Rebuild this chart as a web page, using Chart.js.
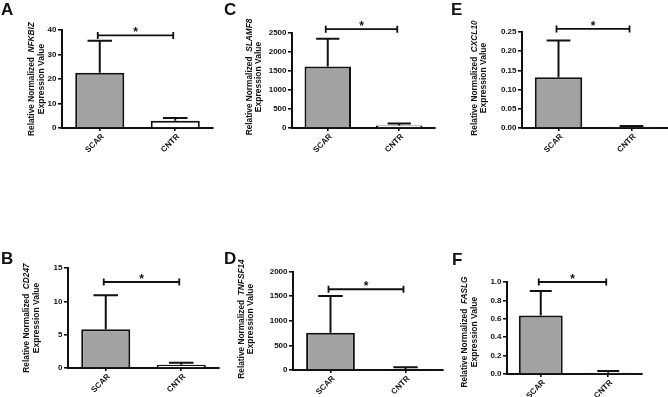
<!DOCTYPE html>
<html>
<head>
<meta charset="utf-8">
<script src="https://cdn.jsdelivr.net/npm/chart.js@4.4.1/dist/chart.umd.min.js"></script>
<style>
  html, body { margin: 0; padding: 0; background: #fff; }
  #page { position: relative; width: 668px; height: 397px; overflow: hidden; }
  #page canvas { position: absolute; left: 0; top: 0; }
</style>
</head>
<body>
<div id="page"></div>
<script>
// data
const groups = ['SCAR', 'CNTR'];
const panelLetters = ['A', 'C', 'E', 'B', 'D', 'F'];
const genes = ['NFKBIZ', 'SLAMF8', 'CXCL10', 'CD247', 'TNFSF14', 'FASLG'];
const scarMean = [22.6, 1620, 0.132, 5.8, 755, 0.635];
const scarUpper = [35.6, 2350, 0.228, 10.9, 1505, 0.903];
const cntrMean = [3.0, 65, 0.003, 0.5, 18, 0.013];
const cntrUpper = [4.1, 120, 0.005, 0.8, 55, 0.033];
const yMax = [40, 2500, 0.25, 15, 2000, 1.0];
const yStep = [10, 500, 0.05, 5, 500, 0.2];
const tickDecimals = [0, 0, 2, 0, 0, 1];
const sigLevel = [37.8, 2600, 0.258, 12.9, 1640, 1.0];
const sigMarks = ['*', '*', '*', '*', '*', '*'];

// where each panel sits on the page (px)
const frames = [
  { left: 62, top: 30, bottom: 128, right: 213, t1: 32, t2: 42, tc: 79, lx: 1, ly: 15 },
  { left: 292, top: 33, bottom: 128, right: 435, t1: 250, t2: 259, tc: 77, lx: 224, ly: 15 },
  { left: 522, top: 32, bottom: 128, right: 668, t1: 475, t2: 484, tc: 78, lx: 451, ly: 15 },
  { left: 68, top: 268, bottom: 368, right: 219, t1: 27, t2: 37, tc: 318, lx: 1, ly: 264 },
  { left: 293, top: 271.5, bottom: 370, right: 443, t1: 242, t2: 251, tc: 319, lx: 224, ly: 264 },
  { left: 507, top: 282, bottom: 374, right: 642, t1: 465, t2: 475, tc: 332, lx: 452, ly: 265 }
];

const FONT = '"Liberation Sans", Arial, sans-serif';
const INK = '#111';
const Y_W = 30, X_H = 30;

const panelDecor = {
  id: 'panelDecor',
  afterDatasetsDraw(chart, args, opts) {
    const { ctx } = chart;
    const x = chart.scales.x, y = chart.scales.y;
    const i = opts.index;
    const uppers = [scarUpper[i], cntrUpper[i]];
    const means = [scarMean[i], cntrMean[i]];
    const meta = chart.getDatasetMeta(0);
    ctx.save();
    ctx.strokeStyle = INK;
    ctx.lineWidth = 2;
    // error bars (upper only)
    meta.data.forEach((bar, k) => {
      const cx = bar.x, half = bar.width / 4;
      const y0 = y.getPixelForValue(means[k]), y1 = y.getPixelForValue(uppers[k]);
      ctx.beginPath();
      ctx.moveTo(cx, y0); ctx.lineTo(cx, y1);
      ctx.moveTo(cx - half, y1); ctx.lineTo(cx + half, y1);
      ctx.stroke();
    });
    // significance bracket
    const x1 = x.getPixelForValue(0) - 2, x2 = x.getPixelForValue(1) - 2;
    const by = y.getPixelForValue(sigLevel[i]);
    ctx.lineWidth = 1.8;
    ctx.beginPath();
    ctx.moveTo(x1, by); ctx.lineTo(x2, by);
    ctx.moveTo(x1, by - 3.5); ctx.lineTo(x1, by + 3.5);
    ctx.moveTo(x2, by - 3.5); ctx.lineTo(x2, by + 3.5);
    ctx.stroke();
    ctx.fillStyle = INK;
    ctx.font = 'bold 12px ' + FONT;
    ctx.textAlign = 'center';
    ctx.textBaseline = 'alphabetic';
    ctx.fillText(sigMarks[i], (x1 + x2) / 2, by + 1);
    ctx.restore();
  },
  afterDraw(chart, args, opts) {
    const { ctx } = chart;
    const i = opts.index, fr = frames[i];
    ctx.save();
    ctx.fillStyle = INK;
    // panel letter
    ctx.font = 'bold 17px ' + FONT;
    ctx.textAlign = 'left';
    ctx.textBaseline = 'alphabetic';
    ctx.fillText(panelLetters[i], fr.lx, fr.ly);
    // y-axis title, gene name in italics
    const a = 'Relative Normalized  ', g = genes[i];
    ctx.textBaseline = 'middle';
    ctx.translate(fr.t1, fr.tc);
    ctx.rotate(-Math.PI / 2);
    ctx.font = 'bold 8.3px ' + FONT;
    const wa = ctx.measureText(a).width;
    ctx.font = 'italic bold 8.3px ' + FONT;
    const wg = ctx.measureText(g).width;
    const sx = -(wa + wg) / 2;
    ctx.font = 'bold 8.3px ' + FONT;
    ctx.fillText(a, sx, 0);
    ctx.font = 'italic bold 8.3px ' + FONT;
    ctx.fillText(g, sx + wa, 0);
    ctx.font = 'bold 8.5px ' + FONT;
    ctx.textAlign = 'center';
    ctx.fillText('Expression Value', 0, fr.t2 - fr.t1);
    ctx.restore();
  }
};

const page = document.getElementById('page');

frames.forEach((fr, i) => {
  const canvas = document.createElement('canvas');
  canvas.width = 668;
  canvas.height = 397;
  page.appendChild(canvas);

  new Chart(canvas, {
    type: 'bar',
    data: {
      labels: groups,
      datasets: [{
        data: [scarMean[i], cntrMean[i]],
        backgroundColor: ['#a2a2a2', '#ffffff'],
        borderColor: INK,
        borderWidth: 2,
        barPercentage: 0.65,
        categoryPercentage: 1
      }]
    },
    options: {
      responsive: false,
      animation: false,
      devicePixelRatio: 1,
      layout: {
        padding: {
          left: fr.left - Y_W,
          top: fr.top,
          right: 668 - fr.right,
          bottom: 397 - fr.bottom - X_H
        }
      },
      plugins: {
        legend: { display: false },
        tooltip: { enabled: false },
        panelDecor: { index: i }
      },
      scales: {
        x: {
          offset: true,
          grid: { offset: false, drawOnChartArea: false, tickLength: 3, color: INK, lineWidth: 1.6 },
          border: { color: INK, width: 2 },
          ticks: {
            minRotation: 45, maxRotation: 45, padding: 1, labelOffset: 3, color: INK,
            font: { family: FONT, size: 8, weight: 'bold' }
          },
          afterFit: s => { s.height = X_H; }
        },
        y: {
          min: 0,
          max: yMax[i],
          grid: { drawOnChartArea: false, tickLength: 4, color: INK, lineWidth: 1.6 },
          border: { color: INK, width: 2 },
          ticks: {
            stepSize: yStep[i], padding: 1.5, color: INK,
            font: { family: FONT, size: 8, weight: 'bold' },
            callback: v => Number(v).toFixed(tickDecimals[i])
          },
          afterFit: s => { s.width = Y_W; }
        }
      }
    },
    plugins: [panelDecor]
  });
});
</script>
</body>
</html>
